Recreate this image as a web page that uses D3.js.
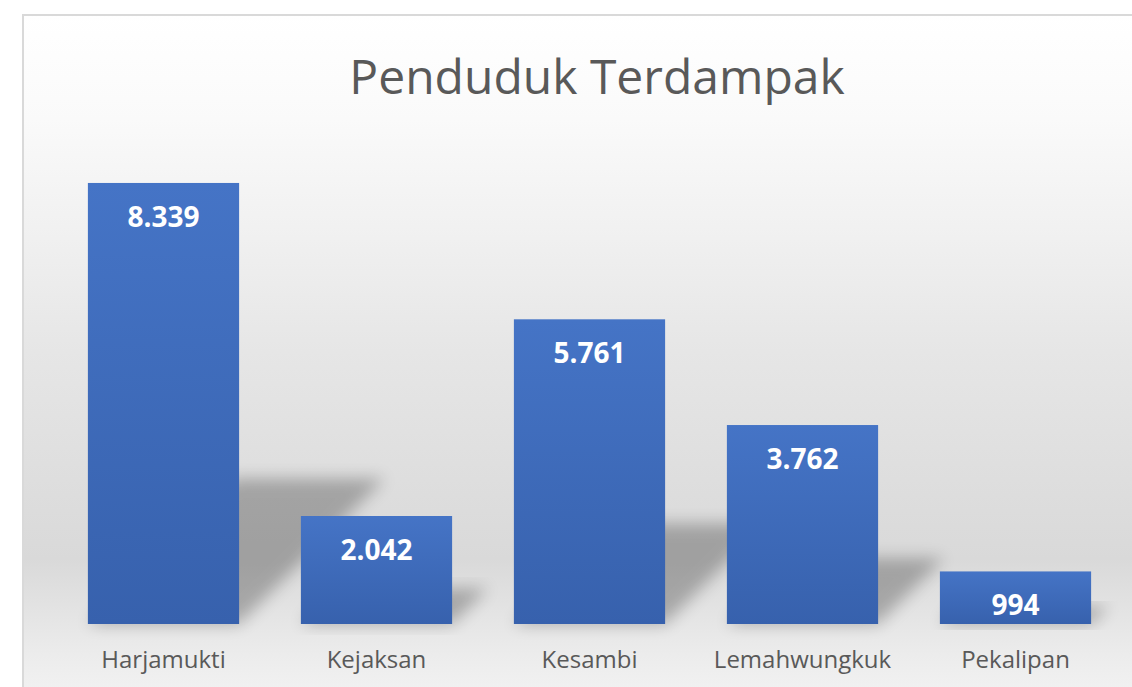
<!DOCTYPE html>
<html>
<head>
<meta charset="utf-8">
<script src="https://cdn.jsdelivr.net/npm/d3@7"></script>
<style>
  body { margin: 0; background: #ffffff; }
  #chart { width: 1132px; height: 687px; }
  .title { font-family: "Open Sans", sans-serif; fill: #595959; }
  .cat-label { font-family: "Open Sans", sans-serif; fill: #595959; }
  .val-label { font-family: "Open Sans", sans-serif; font-weight: bold; fill: #ffffff; }
</style>
</head>
<body>
<div id="chart"></div>
<script>
// ====== Penduduk Terdampak ======

let categories = ["Harjamukti", "Kejaksan", "Kesambi", "Lemahwungkuk", "Pekalipan"];
let values = [8339, 2042, 5761, 3762, 994];
let valueLabels = ["8.339", "2.042", "5.761", "3.762", "994"];
let chartTitle = "Penduduk Terdampak";

let width = 1132,
    height = 687;

let svg = d3.select("#chart").append("svg")
    .attr("width", width)
    .attr("height", height);

let defs = svg.append("defs");

// background gradient (white on top, gray floor, lighter again at the bottom)
let bg = defs.append("linearGradient")
    .attr("id", "bgGrad")
    .attr("x1", 0).attr("y1", 0).attr("x2", 0).attr("y2", 1);
[[0, "#ffffff"], [0.13, "#fafafa"], [0.28, "#f0f0f0"], [0.42, "#e6e6e6"],
 [0.68, "#d9d9d9"], [0.8, "#ececec"], [0.9, "#f7f7f7"], [1, "#fbfbfb"]]
    .forEach(function(s) {
        bg.append("stop").attr("offset", s[0]).attr("stop-color", s[1]);
    });

// bar gradient
let barGrad = defs.append("linearGradient")
    .attr("id", "barGrad")
    .attr("x1", 0).attr("y1", 0).attr("x2", 0).attr("y2", 1);
barGrad.append("stop").attr("offset", 0).attr("stop-color", "#4574c6");
barGrad.append("stop").attr("offset", 1).attr("stop-color", "#3761ad");

// soft shadow
defs.append("filter")
    .attr("id", "blur")
    .attr("x", "-30%").attr("y", "-30%").attr("width", "160%").attr("height", "160%")
    .append("feGaussianBlur")
    .attr("stdDeviation", 8);

// chart area
svg.append("rect")
    .attr("x", 23)
    .attr("y", 15)
    .attr("width", 1200)
    .attr("height", 800)
    .attr("fill", "url(#bgGrad)")
    .attr("stroke", "#d9d9d9")
    .attr("stroke-width", 2);

// scales
let x = d3.scaleBand()
    .domain(categories)
    .range([57, 1122])
    .paddingInner(0.29)
    .paddingOuter(0.145);

let y = d3.scaleLinear()
    .domain([0, 9000])
    .range([624, 148]);

let data = categories.map(function(c, i) {
    return {cat: c, value: values[i], label: valueLabels[i]};
});

// perspective shadows (thrown up and to the right)
let k = 0.33;
svg.selectAll(".shadow")
    .data(data)
    .enter().append("polygon")
    .attr("class", "shadow")
    .attr("points", function(d) {
        let x0 = x(d.cat), x1 = x(d.cat) + x.bandwidth();
        let b = y(0);
        let h = (y(0) - y(d.value)) * k;
        return [[x0, b], [x1, b], [x1 + h, b - h], [x0 + h, b - h]]
            .map(function(p) { return p.join(","); }).join(" ");
    })
    .attr("fill", "#000000")
    .attr("opacity", 0.26)
    .attr("filter", "url(#blur)");

// bars
svg.selectAll(".bar")
    .data(data)
    .enter().append("rect")
    .attr("class", "bar")
    .attr("x", function(d) { return x(d.cat); })
    .attr("width", x.bandwidth())
    .attr("y", function(d) { return y(d.value); })
    .attr("height", function(d) { return y(0) - y(d.value); })
    .attr("fill", "url(#barGrad)");

// value labels inside bars
svg.selectAll(".val-label")
    .data(data)
    .enter().append("text")
    .attr("class", "val-label")
    .attr("x", function(d) { return x(d.cat) + x.bandwidth() / 2; })
    .attr("y", function(d) { return y(d.value) + 44; })
    .attr("text-anchor", "middle")
    .style("font-size", "28px")
    .text(function(d) { return d.label; });

// category axis
let xAxis = svg.append("g")
    .attr("transform", "translate(0," + y(0) + ")")
    .call(d3.axisBottom(x).tickSize(0).tickPadding(0));
xAxis.select(".domain").remove();
xAxis.selectAll("text")
    .attr("class", "cat-label")
    .attr("dy", null)
    .attr("y", 44)
    .style("font-size", "24px");

// title
svg.append("text")
    .attr("class", "title")
    .attr("x", 597)
    .attr("y", 94)
    .attr("text-anchor", "middle")
    .style("font-size", "48px")
    .text(chartTitle);
</script>
</body>
</html>
